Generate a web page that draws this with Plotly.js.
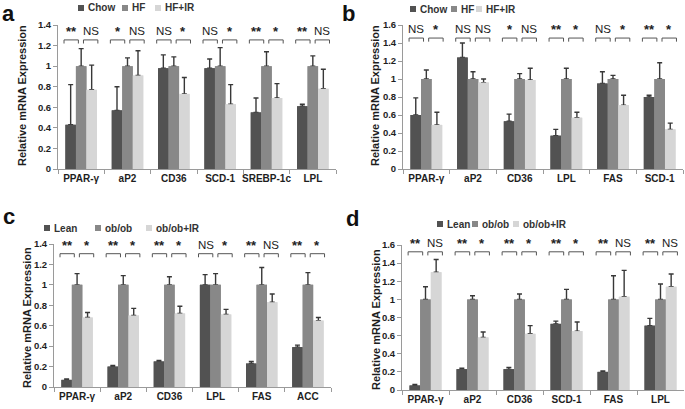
<!DOCTYPE html>
<html><head><meta charset="utf-8">
<script src="https://cdn.plot.ly/plotly-3.0.1.min.js"></script>
<style>html,body{margin:0;padding:0;background:#fff}#chart{width:685px;height:409px}</style>
</head><body><div id="chart"></div>
<script>
// ---------- data ----------
const groupsAB = ['Chow', 'HF', 'HF+IR'];
const groupsCD = ['Lean', 'ob/ob', 'ob/ob+IR'];

// panel a
const catsA = ['PPAR-γ', 'aP2', 'CD36', 'SCD-1', 'SREBP-1c', 'LPL'];
const chowA = [0.43, 0.57, 0.98, 0.98, 0.55, 0.61];
const chowAErr = [0.39, 0.23, 0.13, 0.09, 0.14, 0.02];
const hfA = [1, 1, 1, 1, 1, 1];
const hfAErr = [0.17, 0.08, 0.09, 0.18, 0.14, 0.10];
const hfirA = [0.77, 0.91, 0.73, 0.63, 0.69, 0.78];
const hfirAErr = [0.24, 0.24, 0.16, 0.19, 0.14, 0.19];
const sigA1 = ['**', '*', 'NS', 'NS', '**', '**'];
const sigA2 = ['NS', 'NS', '*', '*', '*', 'NS'];

// panel b
const catsB = ['PPAR-γ', 'aP2', 'CD36', 'LPL', 'FAS', 'SCD-1'];
const chowB = [0.60, 1.24, 0.53, 0.37, 0.95, 0.80];
const chowBErr = [0.19, 0.16, 0.08, 0.07, 0.13, 0.02];
const hfB = [1, 1, 1, 1, 1, 1];
const hfBErr = [0.10, 0.08, 0.06, 0.12, 0.04, 0.18];
const hfirB = [0.49, 0.96, 0.99, 0.57, 0.71, 0.44];
const hfirBErr = [0.14, 0.04, 0.13, 0.06, 0.11, 0.07];
const sigB1 = ['NS', 'NS', '*', '**', 'NS', '**'];
const sigB2 = ['*', 'NS', 'NS', '*', '*', '*'];

// panel c
const catsC = ['PPAR-γ', 'aP2', 'CD36', 'LPL', 'FAS', 'ACC'];
const leanC = [0.07, 0.20, 0.25, 1.00, 0.23, 0.39];
const leanCErr = [0.01, 0.01, 0.01, 0.10, 0.02, 0.02];
const obC = [1, 1, 1, 1, 1, 1];
const obCErr = [0.11, 0.09, 0.08, 0.11, 0.17, 0.12];
const obirC = [0.68, 0.70, 0.72, 0.71, 0.83, 0.65];
const obirCErr = [0.05, 0.07, 0.07, 0.05, 0.08, 0.03];
const sigC1 = ['**', '**', '**', 'NS', '**', '**'];
const sigC2 = ['*', '*', '*', '*', 'NS', '*'];

// panel d
const catsD = ['PPAR-γ', 'aP2', 'CD36', 'SCD-1', 'FAS', 'LPL'];
const leanD = [0.05, 0.23, 0.23, 0.73, 0.20, 0.71];
const leanDErr = [0.01, 0.01, 0.02, 0.03, 0.01, 0.08];
const obD = [1, 1, 1, 1, 1, 1];
const obDErr = [0.14, 0.04, 0.06, 0.11, 0.26, 0.17];
const obirD = [1.30, 0.58, 0.62, 0.65, 1.03, 1.14];
const obirDErr = [0.14, 0.06, 0.09, 0.10, 0.29, 0.14];
const sigD1 = ['**', '**', '**', '**', '**', '**'];
const sigD2 = ['NS', '*', '*', '*', 'NS', 'NS'];

const yTitle = 'Relative mRNA Expression';
const panelLetters = ['a', 'b', 'c', 'd'];

// ---------- styling / layout ----------
const FONT = '"Liberation Sans", Arial, sans-serif';
const NARROW = '"Liberation Sans Narrow", "Liberation Sans", Arial, sans-serif';
const W = 685, H = 409;
const px = x => x / W, py = y => 1 - y / H;
const COLORS = ['#525252', '#888888', '#d6d6d6'];
const ERR = '#383838';
const AXC = '#9a9a9a';

const panels = [
  {cats: catsA, series: [[chowA, chowAErr], [hfA, hfAErr], [hfirA, hfirAErr]], names: groupsAB,
   sig1: sigA1, sig2: sigA2, ymax: 1.4, box: [58, 336, 25, 169], brY: 1.255, brT: 0.035,
   title: [22, 96], letter: [1, 0],
   legend: [[78, 86], [122, 130], [155, 163]], legY: 8},
  {cats: catsB, series: [[chowB, chowBErr], [hfB, hfBErr], [hfirB, hfirBErr]], names: groupsAB,
   sig1: sigB1, sig2: sigB2, ymax: 1.6, box: [403, 683, 25, 169], brY: 1.455, brT: 0.04,
   title: [375, 96], letter: [341, 0],
   legend: [[410, 418], [451, 459], [476, 484]], legY: 9},
  {cats: catsC, series: [[leanC, leanCErr], [obC, obCErr], [obirC, obirCErr]], names: groupsCD,
   sig1: sigC1, sig2: sigC2, ymax: 1.4, box: [54, 331, 244, 387], brY: 1.305, brT: 0.035,
   title: [27, 318], letter: [2, 203],
   legend: [[44, 52], [95, 103], [146, 154]], legY: 228},
  {cats: catsD, series: [[leanD, leanDErr], [obD, obDErr], [obirD, obirDErr]], names: groupsCD,
   sig1: sigD1, sig2: sigD2, ymax: 1.6, box: [402, 684, 245, 390], brY: 1.525, brT: 0.04,
   title: [376, 320], letter: [345, 205],
   legend: [[437, 445], [472, 480], [513, 521]], legY: 224}
];

const traces = [];
const shapes = [];
const annotations = [];
const layout = {
  width: W, height: H,
  margin: {l: 0, r: 0, t: 0, b: 0},
  paper_bgcolor: '#fff', plot_bgcolor: '#fff',
  barmode: 'group', bargap: 0.32, bargroupgap: 0,
  showlegend: false,
  font: {family: FONT, color: '#222'}
};

const BR_OFF = [[-0.37, -0.06], [0.05, 0.36]];

panels.forEach((p, k) => {
  const ax = k === 0 ? '' : String(k + 1);
  const xa = 'x' + ax, ya = 'y' + ax;
  const b = p.box;
  // bars carrying the (upward) error bars
  p.series.forEach((s, j) => {
    traces.push({
      type: 'bar', x: p.cats, y: s[0], name: p.names[j], offsetgroup: String(j),
      marker: {color: COLORS[j], line: {width: 0}},
      error_y: {type: 'data', symmetric: false, array: s[1], arrayminus: s[1].map(() => 0),
                color: ERR, thickness: 1.4, width: 2.5},
      xaxis: xa, yaxis: ya, showlegend: false, hoverinfo: 'skip'
    });
  });
  // same bars redrawn on top so only the upper half of each error bar shows
  p.series.forEach((s, j) => {
    traces.push({
      type: 'bar', x: p.cats, y: s[0], name: p.names[j], offsetgroup: String(j),
      marker: {color: COLORS[j], line: {width: 0}},
      xaxis: xa, yaxis: ya, showlegend: false, hoverinfo: 'skip'
    });
  });
  layout['xaxis' + ax] = {
    domain: [px(b[0]), px(b[1])], anchor: ya, type: 'category',
    showline: true, linecolor: AXC, linewidth: 1,
    ticks: 'outside', tickson: 'boundaries', ticklen: 4, tickcolor: AXC, tickangle: 0,
    tickfont: {family: FONT, size: 10, color: '#1e1e1e', weight: 'bold'},
    showgrid: false, zeroline: false, fixedrange: true
  };
  layout['yaxis' + ax] = {
    domain: [py(b[3]), py(b[2])], anchor: xa, range: [0, p.ymax],
    tick0: 0, dtick: 0.2,
    showline: true, linecolor: AXC, linewidth: 1,
    ticks: 'outside', ticklen: 4, tickcolor: AXC,
    tickfont: {family: FONT, size: 9.5, color: '#1e1e1e', weight: 'bold'},
    showgrid: false, zeroline: false, fixedrange: true
  };
  // significance brackets
  p.cats.forEach((c, i) => {
    [p.sig1[i], p.sig2[i]].forEach((txt, n) => {
      const x0 = i + BR_OFF[n][0], x1 = i + BR_OFF[n][1];
      const ln = {color: '#555', width: 1};
      shapes.push({type: 'line', xref: xa, yref: ya, x0: x0, x1: x1, y0: p.brY, y1: p.brY, line: ln});
      shapes.push({type: 'line', xref: xa, yref: ya, x0: x0, x1: x0, y0: p.brY, y1: p.brY - p.brT, line: ln});
      shapes.push({type: 'line', xref: xa, yref: ya, x0: x1, x1: x1, y0: p.brY, y1: p.brY - p.brT, line: ln});
      const isStar = txt.indexOf('*') >= 0;
      annotations.push({
        xref: xa, yref: ya, x: (x0 + x1) / 2, y: p.brY, yanchor: 'bottom', xanchor: 'center',
        yshift: isStar ? -1 : 1,
        text: txt, showarrow: false,
        font: {family: isStar ? FONT : NARROW, size: isStar ? 13 : 11.5, color: '#222', weight: isStar ? 'bold' : 'normal'}
      });
    });
  });
  // y-axis title
  annotations.push({
    xref: 'paper', yref: 'paper', x: px(p.title[0]), y: py(p.title[1]),
    xanchor: 'center', yanchor: 'middle', textangle: -90, showarrow: false,
    text: yTitle, font: {family: FONT, size: 11, color: '#1e1e1e', weight: 'bold'}
  });
  // panel letter
  annotations.push({
    xref: 'paper', yref: 'paper', x: px(p.letter[0]), y: py(p.letter[1]),
    xanchor: 'left', yanchor: 'top', showarrow: false, borderpad: 0,
    text: panelLetters[k], font: {family: FONT, size: 22, color: '#111', weight: 'bold'}
  });
  // legend (manual)
  p.legend.forEach((lg, j) => {
    shapes.push({type: 'rect', xref: 'paper', yref: 'paper',
      x0: px(lg[0]), x1: px(lg[0] + 6), y0: py(p.legY + 3), y1: py(p.legY - 3),
      fillcolor: COLORS[j], line: {width: 0}});
    annotations.push({
      xref: 'paper', yref: 'paper', x: px(lg[1]), y: py(p.legY),
      xanchor: 'left', yanchor: 'middle', showarrow: false,
      text: p.names[j], font: {family: FONT, size: 10, color: '#333', weight: 'bold'}
    });
  });
});

layout.shapes = shapes;
layout.annotations = annotations;

Plotly.newPlot('chart', traces, layout, {staticPlot: true, displayModeBar: false});
</script>
</body></html>
